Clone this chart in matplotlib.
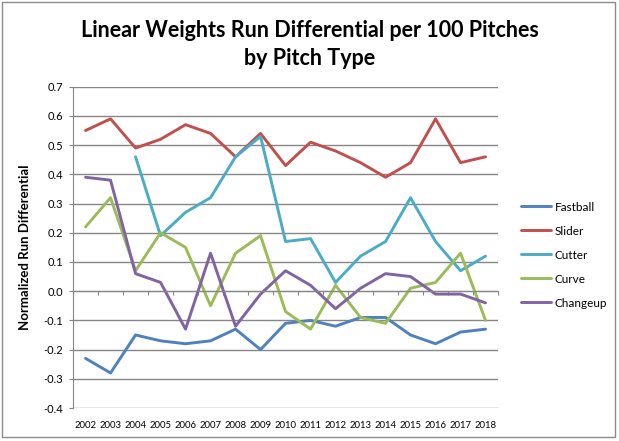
import numpy as np
import matplotlib
matplotlib.use("Agg")
import matplotlib.pyplot as plt
from matplotlib.patches import Rectangle

plt.rcParams['font.family'] = ['Lato', 'DejaVu Sans']

years = np.arange(2002, 2019)
fastball = [-0.23, -0.28, -0.15, -0.17, -0.18, -0.17, -0.13, -0.20, -0.11, -0.10,
            -0.12, -0.09, -0.09, -0.15, -0.18, -0.14, -0.13]
slider = [0.55, 0.59, 0.49, 0.52, 0.57, 0.54, 0.46, 0.54, 0.43, 0.51,
          0.48, 0.44, 0.39, 0.44, 0.59, 0.44, 0.46]
cutter = [np.nan, np.nan, 0.46, 0.19, 0.27, 0.32, 0.46, 0.53, 0.17, 0.18,
          0.03, 0.12, 0.17, 0.32, 0.17, 0.07, 0.12]
curve = [0.22, 0.32, 0.07, 0.20, 0.15, -0.05, 0.13, 0.19, -0.07, -0.13,
         0.02, -0.09, -0.11, 0.01, 0.03, 0.13, -0.10]
changeup = [0.39, 0.38, 0.06, 0.03, -0.13, 0.13, -0.12, -0.01, 0.07, 0.02,
            -0.06, 0.01, 0.06, 0.05, -0.01, -0.01, -0.04]

names = ['Fastball', 'Slider', 'Cutter', 'Curve', 'Changeup']
series = [fastball, slider, cutter, curve, changeup]
colors = ['#4F81BD', '#C0504D', '#4BACC6', '#9BBB59', '#8064A2']

fig = plt.figure(figsize=(6.19, 4.41), dpi=100)
ax = fig.add_axes([0.118, 0.0748, 0.6866, 0.7286])

grid_c = '#868686'
for name, vals, c in zip(names, series, colors):
    ax.plot(years, vals, color=c, lw=2.1, label=name, solid_capstyle='round')

ax.set_xlim(2001.5, 2018.5)
ax.set_ylim(-0.4, 0.7)
yt = np.round(np.arange(-0.4, 0.71, 0.1), 1)
ax.set_yticks(yt)
ax.set_yticklabels([f'{v:.1f}' if v != 0 else '0.0' for v in yt], fontsize=8)
ax.yaxis.grid(True, color=grid_c, lw=1)
ax.set_axisbelow(True)
ax.tick_params(axis='y', length=3, color=grid_c, pad=4)

for s in ['top', 'right']:
    ax.spines[s].set_visible(False)
ax.spines['left'].set_color(grid_c)
ax.spines['bottom'].set_position(('data', 0))
ax.spines['bottom'].set_color(grid_c)
ax.set_xticks(np.arange(2001.5, 2019, 1.0))
ax.tick_params(axis='x', length=3, color=grid_c, labelbottom=False)

sec = ax.secondary_xaxis('bottom')
sec.set_xticks(years)
sec.set_xticklabels([str(y) for y in years], fontsize=6.8)
sec.tick_params(length=0, pad=9)
sec.spines['bottom'].set_visible(False)

ax.set_ylabel('Normalized Run Differential', fontsize=9.5, fontweight='bold', labelpad=9)

fig.suptitle('Linear Weights Run Differential per 100 Pitches\nby Pitch Type',
             fontsize=15.5, fontweight='bold', y=0.955, linespacing=1.45)

ax.legend(loc='center left', bbox_to_anchor=(1.03, 0.476), frameon=False,
          fontsize=8.5, handlelength=2.5, labelspacing=1.1, handletextpad=0.3)

fig.patches.append(Rectangle((2 / 619, 4 / 441), 613 / 619, 435 / 441,
                             transform=fig.transFigure, fill=False,
                             edgecolor='#8c8c8c', lw=1))

fig.savefig('out.png', dpi=100)
